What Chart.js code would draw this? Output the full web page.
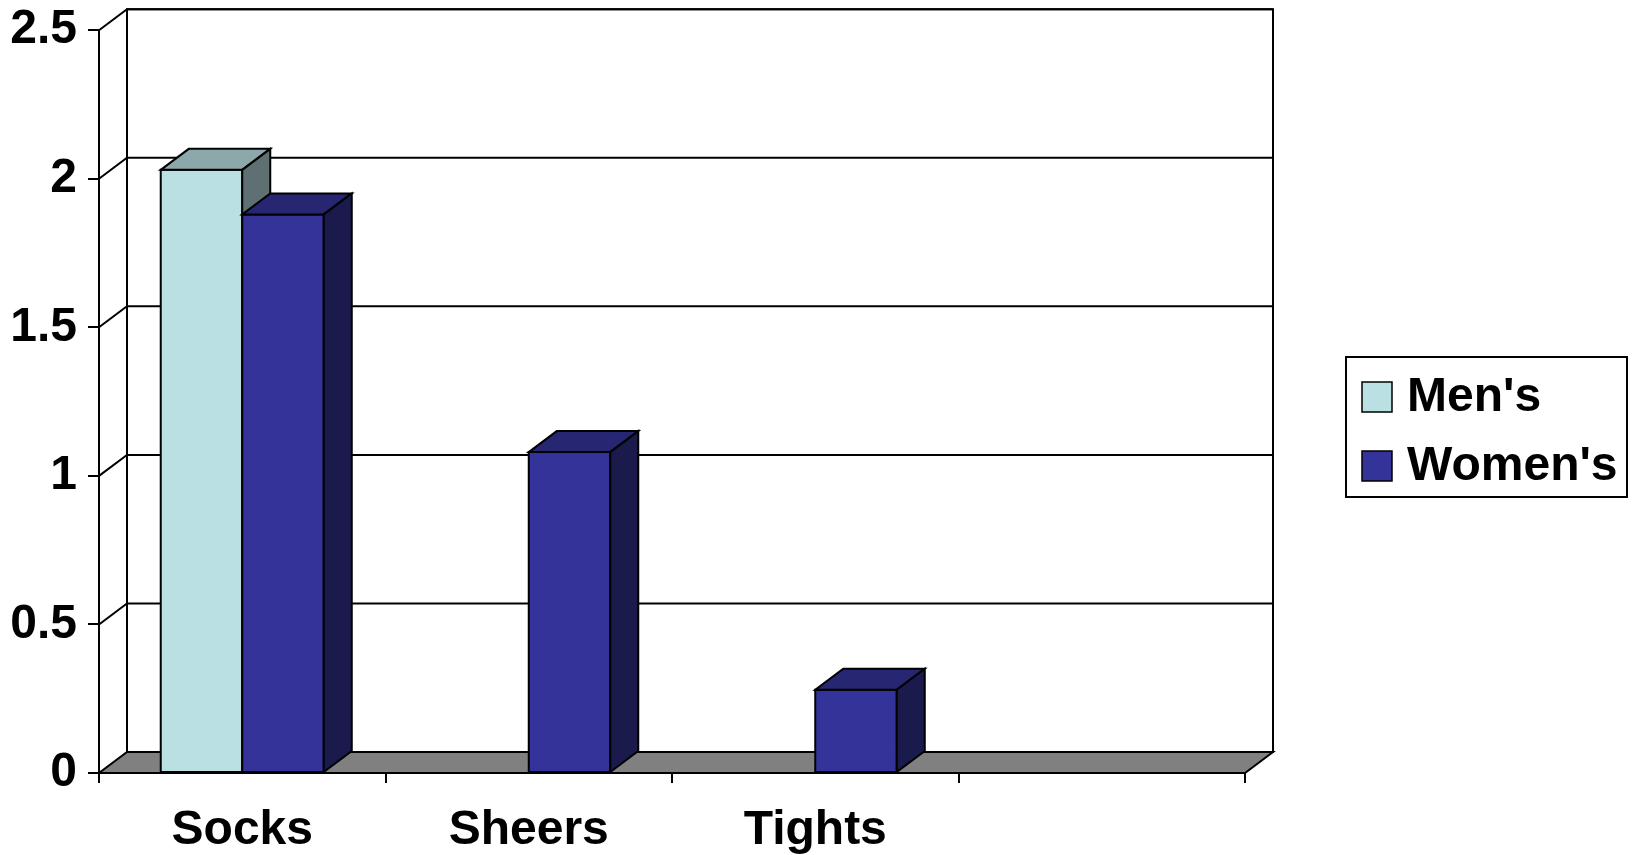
<!DOCTYPE html>
<html>
<head>
<meta charset="utf-8">
<script src="https://cdn.jsdelivr.net/npm/chart.js@4.4.1/dist/chart.umd.min.js"></script>
<style>
    html, body { margin: 0; padding: 0; background: #fff; }
    #wrap { width: 1633px; height: 855px; position: relative; }
</style>
</head>
<body>
<div id="wrap"><canvas id="chart"></canvas></div>
<script>
    // data
    const categories = ['Socks', 'Sheers', 'Tights', ''];
    const mensValues = [2.03, null, null, null];
    const womensValues = [1.88, 1.08, 0.28, null];
    const yTicks = [0, 0.5, 1, 1.5, 2, 2.5];

    const FONT = '"Liberation Sans", Arial, sans-serif';
    const DX = 28, DY = 21;  // depth offset of the fake 3d

    // shade a hex colour by a factor (top and side faces)
    function shade(hex, f) {
        const n = parseInt(hex.slice(1), 16);
        const r = Math.round(((n >> 16) & 255) * f);
        const g = Math.round(((n >> 8) & 255) * f);
        const b = Math.round((n & 255) * f);
        return 'rgb(' + r + ',' + g + ',' + b + ')';
    }

    function poly(ctx, pts, fill) {
        ctx.beginPath();
        ctx.moveTo(pts[0][0], pts[0][1]);
        for (let i = 1; i < pts.length; i++) ctx.lineTo(pts[i][0], pts[i][1]);
        ctx.closePath();
        if (fill) { ctx.fillStyle = fill; ctx.fill(); }
        ctx.stroke();
    }

    // walls, gridlines and grey floor behind the bars
    const wallsPlugin = {
        id: 'walls',
        beforeDatasetsDraw(chart) {
            const ctx = chart.ctx;
            const a = chart.chartArea;
            const y = chart.scales.y;
            ctx.save();
            ctx.strokeStyle = '#000';
            ctx.lineWidth = 2;
            // back wall
            poly(ctx, [[a.left + DX, a.top - DY], [a.right + DX, a.top - DY],
                       [a.right + DX, a.bottom - DY], [a.left + DX, a.bottom - DY]], null);
            // gridlines on back wall + diagonals on side wall
            yTicks.forEach(v => {
                if (v === 0) return;
                const py = y.getPixelForValue(v);
                ctx.beginPath();
                ctx.moveTo(a.left, py);
                ctx.lineTo(a.left + DX, py - DY);
                ctx.lineTo(a.right + DX, py - DY);
                ctx.stroke();
            });
            // floor
            ctx.lineJoin = 'miter';
            poly(ctx, [[a.left, a.bottom], [a.right, a.bottom],
                       [a.right + DX, a.bottom - DY], [a.left + DX, a.bottom - DY]], '#808080');
            ctx.restore();
        },
        // redraw each bar as a block, in front-to-back order
        afterDatasetsDraw(chart) {
            const ctx = chart.ctx;
            ctx.save();
            ctx.strokeStyle = '#000';
            ctx.lineWidth = 2;
            ctx.lineJoin = 'miter';
            categories.forEach((c, i) => {
                chart.data.datasets.forEach((ds, d) => {
                    if (ds.data[i] == null) return;
                    const el = chart.getDatasetMeta(d).data[i];
                    const x0 = el.x - el.width / 2, x1 = el.x + el.width / 2;
                    const top = el.y, base = el.base;
                    const col = ds.backgroundColor;
                    poly(ctx, [[x0, top], [x1, top], [x1, base], [x0, base]], col);
                    poly(ctx, [[x0, top], [x0 + DX, top - DY], [x1 + DX, top - DY], [x1, top]], shade(col, 0.75));
                    poly(ctx, [[x1, top], [x1 + DX, top - DY], [x1 + DX, base - DY], [x1, base]], shade(col, 0.5));
                });
            });
            ctx.restore();
        },
        // boxed legend on the right
        afterDraw(chart) {
            const ctx = chart.ctx;
            ctx.save();
            ctx.strokeStyle = '#000';
            ctx.lineWidth = 2;
            ctx.strokeRect(1346, 357, 281, 140);
            ctx.font = 'bold 48px ' + FONT;
            ctx.textBaseline = 'middle';
            ctx.textAlign = 'left';
            chart.data.datasets.forEach((ds, d) => {
                const cy = 397 + d * 69;
                ctx.fillStyle = ds.backgroundColor;
                ctx.fillRect(1362, cy - 15, 30, 30);
                ctx.lineWidth = 1.5;
                ctx.strokeRect(1362, cy - 15, 30, 30);
                ctx.fillStyle = '#000';
                ctx.fillText(ds.label, 1407, cy + 1);
            });
            ctx.restore();
        }
    };

    new Chart(document.getElementById('chart'), {
        type: 'bar',
        data: {
            labels: categories,
            datasets: [
                { label: "Men's", data: mensValues, backgroundColor: '#BBE0E3', borderColor: '#000', borderWidth: 2 },
                { label: "Women's", data: womensValues, backgroundColor: '#333399', borderColor: '#000', borderWidth: 2 }
            ]
        },
        options: {
            responsive: true,
            maintainAspectRatio: false,
            animation: false,
            layout: { padding: { top: 29, right: 388, bottom: 0, left: 0 } },
            categoryPercentage: 0.569,
            barPercentage: 1,
            plugins: { legend: { display: false }, tooltip: { enabled: false } },
            scales: {
                x: {
                    grid: { offset: true, drawOnChartArea: false, drawTicks: true, tickLength: 10, color: '#000', lineWidth: 2 },
                    border: { display: true, color: '#000', width: 2 },
                    ticks: { color: '#000', font: { family: FONT, size: 48, weight: 'bold' }, padding: 19, maxRotation: 0 },
                    afterFit: (s) => { s.height = 82; }
                },
                y: {
                    min: 0,
                    max: 2.5,
                    afterBuildTicks: (s) => { s.ticks = yTicks.map(v => ({ value: v })); },
                    grid: { drawOnChartArea: false, drawTicks: true, tickLength: 11, color: '#000', lineWidth: 2 },
                    border: { display: true, color: '#000', width: 2 },
                    ticks: {
                        color: '#000',
                        font: { family: FONT, size: 48, weight: 'bold', lineHeight: 0.8 },
                        padding: 11,
                        callback: (v) => String(v)
                    },
                    afterFit: (s) => { s.width = 99; }
                }
            }
        },
        plugins: [wallsPlugin]
    });
</script>
</body>
</html>
